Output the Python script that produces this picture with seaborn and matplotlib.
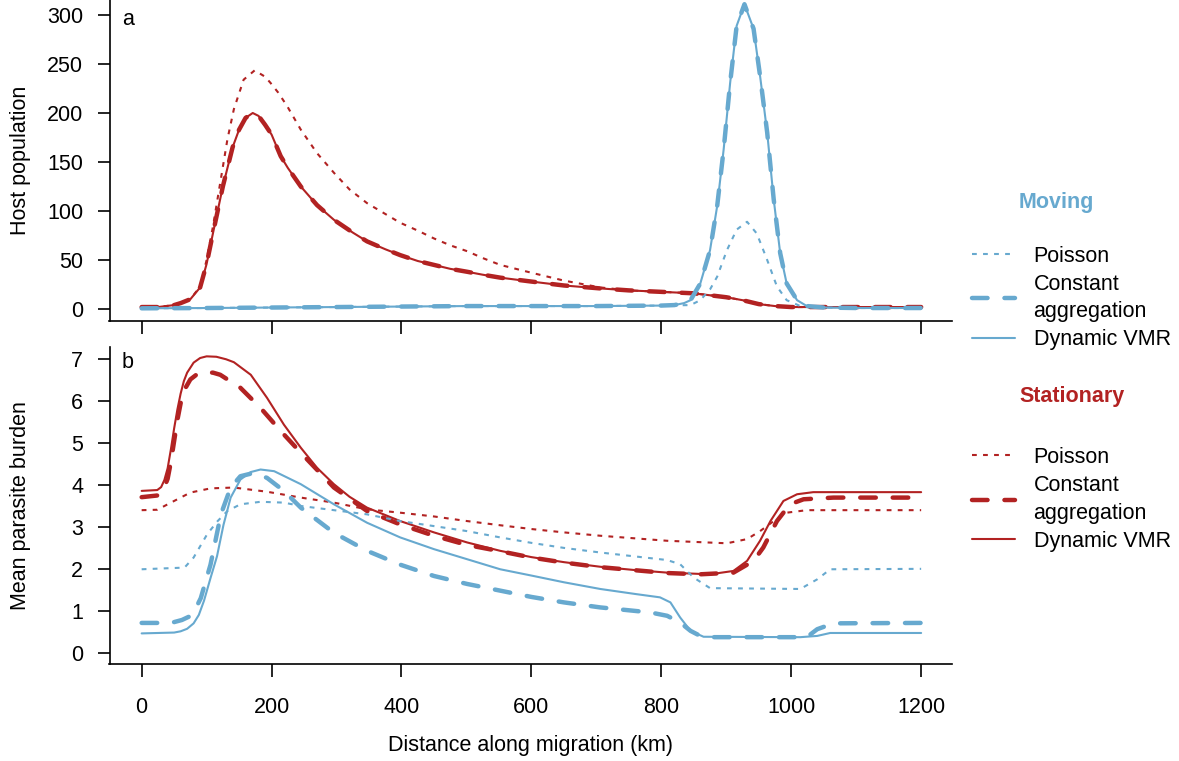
import matplotlib
matplotlib.use("Agg")
import matplotlib.pyplot as plt
import seaborn as sns
from matplotlib.lines import Line2D

# ---------------- panel a : host population ----------------
a_stat_pois_km = [0, 25, 50, 75, 90, 100, 110, 120, 132, 142, 157, 174, 190, 198, 210, 224, 245, 270,
                  296, 320, 347, 375, 398, 425, 450, 475, 501, 525, 552, 600, 650, 706, 750, 800, 850,
                  875, 900, 925, 950, 975, 1000, 1050, 1100, 1150, 1200]
a_stat_pois = [2, 2, 4, 10, 23, 50, 85, 125, 173, 204, 234, 243.5, 237, 231, 221, 207, 183, 159,
               139, 122, 108, 97, 88, 80, 72, 65, 59, 52, 45, 37, 29, 22, 19, 17.5, 16,
               14, 12, 9, 5, 3, 2, 2, 2, 2, 2]

a_stat_km = [0, 25, 50, 60, 75, 90, 100, 110, 125, 140, 150, 160, 171, 180, 190, 200, 214, 225, 245,
             270, 296, 325, 347, 375, 398, 425, 450, 475, 501, 525, 552, 600, 650, 706, 750, 800,
             850, 875, 900, 925, 950, 975, 1000, 1050, 1100, 1150, 1200]
a_stat_agg = [2, 2, 4, 6, 10, 22, 46, 78, 125, 165, 183, 195, 200, 197, 188, 178, 156, 144, 125,
              106, 91, 78, 69, 61, 55, 49, 45, 41, 38, 35, 32, 28, 24, 21, 19, 17.5,
              16, 14, 12, 9, 5, 3, 2, 2, 2, 2, 2]
a_stat_vmr = [2, 2, 4, 6, 10, 22, 46, 78, 125, 165, 183, 195, 200, 197, 188, 178, 156, 144, 125,
              106, 91, 78, 69, 61, 55, 49, 45, 41, 38, 35, 32, 28, 24, 21, 19, 17.5,
              16, 14, 12, 9, 5, 3, 2, 2, 2, 2, 2]

a_mov_pois_km = [0, 100, 200, 300, 400, 500, 600, 700, 800, 845, 860, 875, 886, 901, 916, 932, 947,
                 963, 978, 993, 1014, 1050, 1100, 1200]
a_mov_pois = [0.7, 1, 1.5, 2, 2.5, 3, 3, 3, 3.5, 4, 9, 20, 33, 60, 81, 89, 77,
              50, 23, 9, 3, 1.5, 1, 1]

a_mov_km = [0, 100, 200, 300, 400, 500, 600, 700, 800, 820, 835, 845, 860, 875, 886, 896, 906, 916,
            928, 942, 952, 963, 973, 983, 993, 1009, 1024, 1050, 1100, 1200]
a_mov_agg = [0.7, 1, 1.5, 2, 2.5, 3, 3, 3, 3.5, 4, 6, 9, 26, 60, 105, 163, 231, 289,
             311, 286, 238, 180, 112, 57, 26, 9, 3, 1.5, 1, 1]
a_mov_vmr = [0.7, 1, 1.5, 2, 2.5, 3, 3, 3, 3.5, 4, 6, 9, 26, 60, 105, 163, 231, 289,
             311, 286, 238, 180, 112, 57, 26, 9, 3, 1.5, 1, 1]

# ---------------- panel b : mean parasite burden ----------------
b_stat_vmr_km = [0, 24, 30, 35, 40, 45, 50, 55, 60, 65, 70, 80, 90, 100, 115, 130, 142, 168, 193,
                 219, 245, 270, 296, 320, 347, 398, 450, 501, 552, 600, 650, 706, 760, 809, 875,
                 911, 932, 952, 968, 988, 1009, 1034, 1200]
b_stat_vmr = [3.86, 3.88, 3.95, 4.12, 4.4, 4.85, 5.35, 5.8, 6.18, 6.48, 6.68, 6.92, 7.03, 7.07,
              7.06, 7.0, 6.93, 6.63, 6.08, 5.44, 4.89, 4.41, 4.02, 3.72, 3.46, 3.14, 2.87, 2.63,
              2.43, 2.28, 2.16, 2.05, 1.97, 1.91, 1.87, 1.95, 2.19, 2.67, 3.14, 3.62, 3.78, 3.83,
              3.83]

b_stat_agg_km = [0, 24, 30, 35, 40, 45, 50, 55, 60, 65, 75, 85, 96, 110, 121, 152, 183, 214, 245,
                 296, 347, 398, 450, 501, 552, 600, 650, 706, 809, 860, 911, 942, 957, 978, 998,
                 1019, 1065, 1200]
b_stat_agg = [3.71, 3.75, 3.82, 3.95, 4.15, 4.55, 5.05, 5.55, 5.95, 6.25, 6.52, 6.64, 6.69, 6.68,
              6.63, 6.32, 5.84, 5.29, 4.77, 3.94, 3.38, 3.06, 2.79, 2.57, 2.42, 2.27, 2.15, 2.04,
              1.9, 1.87, 1.91, 2.19, 2.51, 3.14, 3.54, 3.66, 3.7, 3.7]

b_stat_pois_km = [0, 24, 50, 75, 106, 142, 193, 245, 296, 347, 398, 450, 501, 552, 600, 650, 706,
                  809, 901, 932, 952, 973, 993, 1024, 1200]
b_stat_pois = [3.4, 3.41, 3.62, 3.82, 3.92, 3.94, 3.84, 3.7, 3.58, 3.42, 3.34, 3.25, 3.14, 3.04,
               2.95, 2.87, 2.79, 2.67, 2.61, 2.71, 2.9, 3.14, 3.34, 3.4, 3.4]

b_mov_vmr_km = [0, 50, 60, 70, 80, 88, 96, 106, 116, 126, 137, 152, 168, 183, 204, 245, 296, 347,
                398, 450, 501, 552, 600, 650, 706, 760, 798, 814, 829, 845, 865, 1014, 1040,
                1060, 1200]
b_mov_vmr = [0.46, 0.48, 0.51, 0.57, 0.7, 0.9, 1.24, 1.78, 2.3, 3.05, 3.7, 4.13, 4.31, 4.37, 4.33,
             4.02, 3.54, 3.1, 2.75, 2.47, 2.23, 1.99, 1.84, 1.68, 1.52, 1.4, 1.32, 1.2, 0.84,
             0.52, 0.38, 0.37, 0.4, 0.47, 0.47]

b_mov_agg_km = [0, 40, 50, 62, 73, 82, 91, 106, 122, 137, 152, 173, 193, 219, 245, 296, 347, 398,
                450, 501, 552, 600, 650, 706, 783, 809, 829, 845, 860, 880, 1024, 1040, 1065, 1200]
b_mov_agg = [0.71, 0.71, 0.73, 0.78, 0.86, 1.02, 1.3, 2.1, 3.3, 3.94, 4.21, 4.29, 4.17, 3.86,
             3.46, 2.86, 2.43, 2.1, 1.83, 1.64, 1.48, 1.33, 1.2, 1.08, 0.96, 0.88, 0.72, 0.52,
             0.4, 0.37, 0.37, 0.56, 0.7, 0.71]

b_mov_pois_km = [0, 66, 80, 101, 117, 132, 152, 183, 219, 245, 296, 347, 398, 450, 501, 552, 600,
                 650, 706, 809, 829, 850, 875, 1014, 1040, 1060, 1200]
b_mov_pois = [1.99, 2.03, 2.27, 2.83, 3.14, 3.38, 3.54, 3.6, 3.58, 3.5, 3.4, 3.3, 3.14, 3.02, 2.9,
              2.75, 2.62, 2.5, 2.39, 2.21, 2.11, 1.79, 1.54, 1.52, 1.75, 1.99, 2.0]

model_labels = ["Poisson", "Constant\naggregation", "Dynamic VMR"]
group_titles = ["Moving", "Stationary"]

BLUE = "#67A9CF"
RED = "#B22222"
FS = 15.5

# line styles for the three models
styles = {
    "pois": dict(lw=1.5, linestyle=(0, (2.3, 3.0)), dash_capstyle="butt"),
    "agg": dict(lw=3.2, linestyle=(0, (3.5, 3.8)), dash_capstyle="round"),
    "vmr": dict(lw=1.5, linestyle="-", solid_capstyle="round"),
}

sns.set_style("ticks")
plt.rcParams["font.family"] = ["Liberation Sans", "DejaVu Sans"]
plt.rcParams["axes.linewidth"] = 1.2
plt.rcParams["text.color"] = "black"
plt.rcParams["axes.labelcolor"] = "black"
plt.rcParams["axes.edgecolor"] = "black"

W, H = 1179, 761
fig = plt.figure(figsize=(W / 100, H / 100), dpi=100)
left = 109.5 / W
width = 842.5 / W
ax_a = fig.add_axes([left, 1 - 321 / H, width, 321 / H])
ax_b = fig.add_axes([left, 1 - 664 / H, width, (664 - 346.7) / H])

series_a = [
    (a_stat_pois_km, a_stat_pois, RED, "pois"),
    (a_stat_km, a_stat_agg, RED, "agg"),
    (a_stat_km, a_stat_vmr, RED, "vmr"),
    (a_mov_pois_km, a_mov_pois, BLUE, "pois"),
    (a_mov_km, a_mov_agg, BLUE, "agg"),
    (a_mov_km, a_mov_vmr, BLUE, "vmr"),
]
series_b = [
    (b_stat_pois_km, b_stat_pois, RED, "pois"),
    (b_stat_agg_km, b_stat_agg, RED, "agg"),
    (b_stat_vmr_km, b_stat_vmr, RED, "vmr"),
    (b_mov_pois_km, b_mov_pois, BLUE, "pois"),
    (b_mov_agg_km, b_mov_agg, BLUE, "agg"),
    (b_mov_vmr_km, b_mov_vmr, BLUE, "vmr"),
]

for ax, series in [(ax_a, series_a), (ax_b, series_b)]:
    for xs, ys, col, key in series:
        sns.lineplot(x=xs, y=ys, ax=ax, color=col, **styles[key])

for ax in (ax_a, ax_b):
    ax.set_xlim(-49.5, 1247.5)
    ax.set_xticks(range(0, 1201, 200))
    sns.despine(ax=ax)
    ax.tick_params(direction="out", length=9, width=1.2, labelsize=FS, colors="black")
    ax.tick_params(axis="y", pad=10)
    ax.tick_params(axis="x", pad=15)

ax_a.set_ylim(-12.24, 315.3)
ax_a.set_yticks(range(0, 301, 50))
ax_a.tick_params(axis="x", labelbottom=False)
ax_b.set_ylim(-0.27, 7.30)
ax_b.set_yticks(range(0, 8))

ax_a.set_ylabel("Host population", fontsize=FS)
ax_a.yaxis.set_label_coords(-0.0926, 0.5)
ax_b.set_ylabel("Mean parasite burden", fontsize=FS)
ax_b.yaxis.set_label_coords(-0.0926, 0.5)
ax_b.set_xlabel("Distance along migration (km)", fontsize=FS)
ax_b.xaxis.set_label_coords(0.5, -0.224)
ax_a.set_xlabel("")

ax_a.text(0.0148, 0.922, "a", transform=ax_a.transAxes, fontsize=FS, va="baseline")
ax_b.text(0.0148, 0.933, "b", transform=ax_b.transAxes, fontsize=FS, va="baseline")

# legends
for title, col, ytitle, ytop in [("Moving", BLUE, 207.7, 245.5), ("Stationary", RED, 401.7, 447)]:
    fig.text(1019 / W, 1 - ytitle / H, title, color=col, fontsize=FS, fontweight="bold",
             va="baseline", ha="left")
    handles = [Line2D([], [], color=col, **styles[k]) for k in ["pois", "agg", "vmr"]]
    leg = fig.legend(handles, model_labels, loc="upper left", bbox_to_anchor=(972 / W, 1 - ytop / H),
                     frameon=False, fontsize=FS, handlelength=2.0, handletextpad=0.86,
                     labelspacing=0.33, borderpad=0, borderaxespad=0)
    for t in leg.get_texts():
        t.set_linespacing(1.4)
        t.set_color("black")

fig.savefig("out.png", dpi=100)
